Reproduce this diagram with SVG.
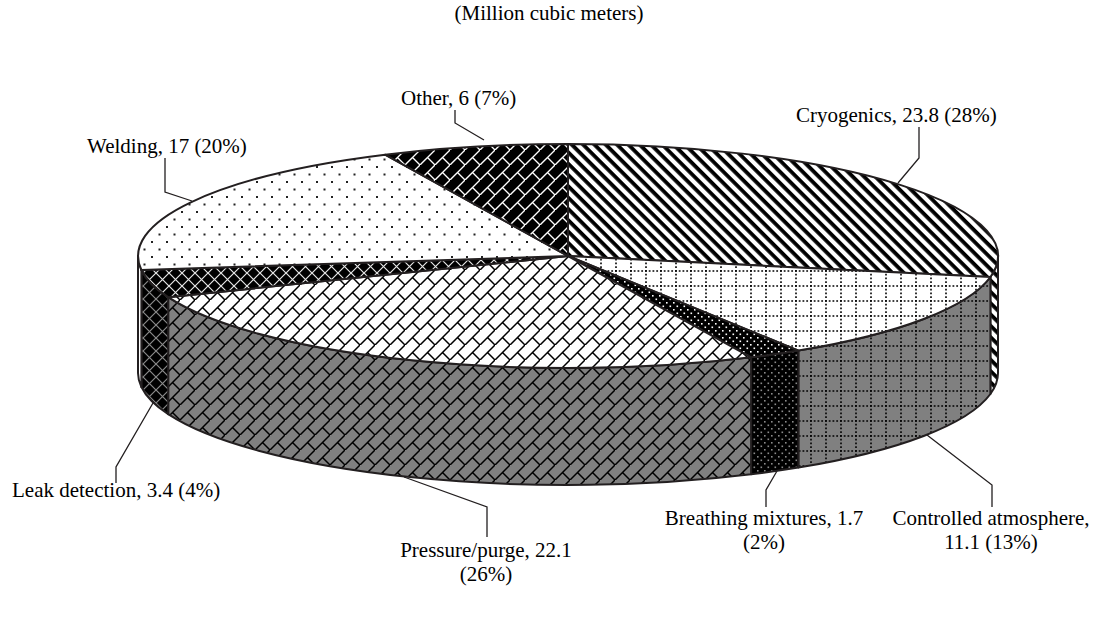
<svg xmlns="http://www.w3.org/2000/svg" width="1099" height="618" viewBox="0 0 1099 618">
  <style>
    .lbl { font-family: "Liberation Serif", "Times New Roman", serif; font-size: 21px; fill: #000; }
    .edge { stroke: #231f20; stroke-width: 2; stroke-linejoin: round; }
    .lead { fill: none; stroke: #231f20; stroke-width: 1.3; }
  </style>
  <defs>
    <!-- wide downward diagonal stripes -->
    <pattern id="stripes" patternUnits="userSpaceOnUse" width="8" height="8" patternTransform="rotate(45)">
      <rect width="8" height="8" fill="#fff"/>
      <rect y="0" width="8" height="3.8" fill="#000"/>
    </pattern>
    <!-- dotted grid, light and shaded -->
    <pattern id="grid" patternUnits="userSpaceOnUse" width="15" height="15">
      <rect width="15" height="15" fill="#fff"/>
      <path d="M0,1 H15" stroke="#000" stroke-width="1.6" stroke-dasharray="1.8,1.95"/>
      <path d="M1,0 V15" stroke="#000" stroke-width="1.6" stroke-dasharray="1.8,1.95"/>
    </pattern>
    <pattern id="gridDark" patternUnits="userSpaceOnUse" width="15" height="15">
      <rect width="15" height="15" fill="#808080"/>
      <path d="M0,1 H15" stroke="#000" stroke-width="1.6" stroke-dasharray="1.8,1.95"/>
      <path d="M1,0 V15" stroke="#000" stroke-width="1.6" stroke-dasharray="1.8,1.95"/>
    </pattern>
    <!-- dense dots on black -->
    <pattern id="dots" patternUnits="userSpaceOnUse" width="7" height="7">
      <rect width="7" height="7" fill="#000"/>
      <rect x="1" y="1" width="1.6" height="1.6" fill="#fff"/>
      <rect x="4.5" y="4.5" width="1.6" height="1.6" fill="#fff"/>
    </pattern>
    <pattern id="dotsDark" patternUnits="userSpaceOnUse" width="7" height="7">
      <rect width="7" height="7" fill="#000"/>
      <rect x="1" y="1" width="1.6" height="1.6" fill="#8a8a8a"/>
      <rect x="4.5" y="4.5" width="1.6" height="1.6" fill="#8a8a8a"/>
    </pattern>
    <!-- diagonal brick -->
    <pattern id="brick" patternUnits="userSpaceOnUse" width="15" height="15">
      <rect width="15" height="15" fill="#fff"/>
      <path d="M-1,16 L16,-1 M7.5,7.5 L15,15" stroke="#000" stroke-width="1.5"/>
    </pattern>
    <pattern id="brickDark" patternUnits="userSpaceOnUse" width="15" height="15">
      <rect width="15" height="15" fill="#808080"/>
      <path d="M-1,16 L16,-1 M7.5,7.5 L15,15" stroke="#000" stroke-width="1.5"/>
    </pattern>
    <pattern id="brickInv" patternUnits="userSpaceOnUse" width="15" height="15">
      <rect width="15" height="15" fill="#000"/>
      <path d="M-1,16 L16,-1 M7.5,7.5 L15,15" stroke="#fff" stroke-width="1.4"/>
    </pattern>
    <!-- diagonal crosshatch on black -->
    <pattern id="cross" patternUnits="userSpaceOnUse" width="13" height="13">
      <rect width="13" height="13" fill="#000"/>
      <path d="M-1,-1 L14,14 M-1,14 L14,-1" stroke="#e6e6e6" stroke-width="1.2"/>
    </pattern>
    <pattern id="crossDark" patternUnits="userSpaceOnUse" width="13" height="13">
      <rect width="13" height="13" fill="#000"/>
      <path d="M-1,-1 L14,14 M-1,14 L14,-1" stroke="#8a8a8a" stroke-width="1.2"/>
    </pattern>
    <!-- sparse dots -->
    <pattern id="sparse" patternUnits="userSpaceOnUse" width="15" height="15">
      <rect width="15" height="15" fill="#fff"/>
      <rect x="1" y="1" width="2" height="2" fill="#222"/>
      <rect x="8.5" y="8.5" width="2" height="2" fill="#222"/>
    </pattern>
  </defs>

  <text class="lbl" x="549" y="20" text-anchor="middle">(Million cubic meters)</text>

  <!-- side walls -->
  <g id="walls">
    <path class="edge" fill="url(#stripes)" d="M998,256 A430,112 0 0,1 990.4,277 L990.4,394 A430,112 0 0,0 998,373 Z"/>
    <path class="edge" fill="url(#gridDark)" d="M990.4,277 A430,112 0 0,1 798.4,350.6 L798.4,467.6 A430,112 0 0,0 990.4,394 Z"/>
    <path class="edge" fill="url(#dotsDark)" d="M798.4,350.6 A430,112 0 0,1 751.1,357.3 L751.1,474.3 A430,112 0 0,0 798.4,467.6 Z"/>
    <path class="edge" fill="url(#brickDark)" d="M751.1,357.3 A430,112 0 0,1 168.2,297.2 L168.2,414.2 A430,112 0 0,0 751.1,474.3 Z"/>
    <path class="edge" fill="url(#crossDark)" d="M168.2,297.2 A430,112 0 0,1 141.4,270 L141.4,387 A430,112 0 0,0 168.2,414.2 Z"/>
    <path class="edge" fill="url(#sparse)" d="M141.4,270 A430,112 0 0,1 138,256 L138,373 A430,112 0 0,0 141.4,387 Z"/>
  </g>

  <!-- top faces of the slices -->
  <g id="cryogenics">
    <path class="edge" fill="url(#stripes)" d="M568,256 L568,144 A430,112 0 0,1 990.4,277 Z"/>
    <text class="lbl" x="796" y="122">Cryogenics, 23.8 (28%)</text>
  </g>
  <g id="controlled-atmosphere">
    <path class="edge" fill="url(#grid)" d="M568,256 L990.4,277 A430,112 0 0,1 798.4,350.6 Z"/>
    <text class="lbl" x="991" y="525" text-anchor="middle">Controlled atmosphere,</text>
    <text class="lbl" x="991" y="549" text-anchor="middle">11.1 (13%)</text>
  </g>
  <g id="breathing-mixtures">
    <path class="edge" fill="url(#dots)" d="M568,256 L798.4,350.6 A430,112 0 0,1 751.1,357.3 Z"/>
    <text class="lbl" x="764" y="525" text-anchor="middle">Breathing mixtures, 1.7</text>
    <text class="lbl" x="764" y="549" text-anchor="middle">(2%)</text>
  </g>
  <g id="pressure-purge">
    <path class="edge" fill="url(#brick)" d="M568,256 L751.1,357.3 A430,112 0 0,1 168.2,297.2 Z"/>
    <text class="lbl" x="486" y="557" text-anchor="middle">Pressure/purge, 22.1</text>
    <text class="lbl" x="486" y="581" text-anchor="middle">(26%)</text>
  </g>
  <g id="leak-detection">
    <path class="edge" fill="url(#cross)" d="M568,256 L168.2,297.2 A430,112 0 0,1 141.4,270 Z"/>
    <text class="lbl" x="12" y="497">Leak detection, 3.4 (4%)</text>
  </g>
  <g id="welding">
    <path class="edge" fill="url(#sparse)" d="M568,256 L141.4,270 A430,112 0 0,1 385.1,154.7 Z"/>
    <text class="lbl" x="87" y="153">Welding, 17 (20%)</text>
  </g>
  <g id="other">
    <path class="edge" fill="url(#brickInv)" d="M568,256 L385.1,154.7 A430,112 0 0,1 568,144 Z"/>
    <text class="lbl" x="401" y="105">Other, 6 (7%)</text>
  </g>

  <!-- leader lines -->
  <g id="connectors">
    <polyline class="lead" points="455,110 455,123 484,140"/>
    <polyline class="lead" points="919,127 919,158 898,183"/>
    <polyline class="lead" points="165,158 165,192 192,201"/>
    <polyline class="lead" points="116,483 116,467 153,403"/>
    <polyline class="lead" points="487,537 487,507 404,477"/>
    <polyline class="lead" points="766,507 766,490 777,471"/>
    <polyline class="lead" points="992,507 992,485 927,435"/>
  </g>
</svg>
